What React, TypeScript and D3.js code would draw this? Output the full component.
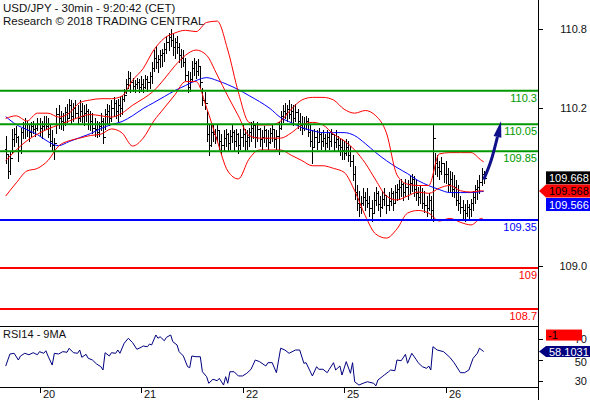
import React from "react";
import * as d3 from "d3";

// ---- OHLC bars (30 min), index 0 = first visible bar ----
const highs = [
  109.99,109.85,109.87,110.04,110.05,110.06,109.99,110.05,110.09,110.12,110.10,110.07,110.09,110.10,110.08,110.12,
  110.12,110.10,110.14,110.14,110.12,110.07,110.03,109.97,110.20,110.22,110.18,110.16,110.21,110.23,110.27,110.26,
  110.24,110.26,110.22,110.26,110.24,110.22,110.23,110.19,110.18,110.16,110.12,110.10,110.09,110.16,110.12,110.19,
  110.23,110.22,110.26,110.28,110.26,110.27,110.28,110.29,110.34,110.42,110.48,110.47,110.43,110.41,110.43,110.42,
  110.44,110.42,110.45,110.44,110.47,110.55,110.64,110.67,110.60,110.64,110.65,110.69,110.75,110.77,110.80,110.76,
  110.73,110.75,110.69,110.65,110.64,110.58,110.48,110.47,110.56,110.58,110.56,110.57,110.52,110.35,110.32,110.18,
  110.08,110.07,110.07,110.04,110.07,110.03,110.00,110.03,110.04,110.01,110.03,110.07,110.03,110.04,110.01,110.04,
  110.07,110.04,110.03,110.05,110.09,110.10,110.07,110.09,110.05,110.03,110.06,110.04,110.03,110.05,110.07,110.04,
  110.03,110.09,110.18,110.22,110.24,110.22,110.26,110.23,110.22,110.23,110.19,110.16,110.14,110.13,110.14,110.12,
  110.07,110.03,110.04,110.03,110.05,110.01,110.03,110.00,110.03,110.01,110.04,110.00,110.03,109.99,109.97,109.96,
  109.95,109.96,109.95,109.91,109.84,109.76,109.61,109.57,109.53,109.59,109.56,109.59,109.53,109.50,109.56,109.60,
  109.57,109.53,109.57,109.59,109.53,109.56,109.59,109.57,109.61,109.62,109.65,109.66,109.63,109.66,109.65,109.68,
  109.70,109.68,109.65,109.60,109.61,109.59,109.57,109.53,109.55,109.53,110.07,109.86,109.84,109.80,109.83,109.78,
  109.80,109.74,109.72,109.71,109.69,109.65,109.61,109.53,109.50,109.47,109.50,109.47,109.51,109.57,109.61,109.65,
  109.69,109.74,109.72
];
const lows = [
  109.78,109.67,109.70,109.86,109.91,109.94,109.80,109.86,109.97,109.97,109.99,109.95,109.99,110.01,109.99,110.03,
  109.99,109.97,110.03,110.04,109.98,109.91,109.88,109.81,110.01,110.05,110.04,110.03,110.07,110.09,110.12,110.08,
  110.10,110.12,110.08,110.10,110.09,110.07,110.10,110.04,110.03,110.01,109.99,109.98,109.99,110.03,109.93,110.04,
  110.08,110.07,110.10,110.14,110.12,110.10,110.14,110.15,110.25,110.31,110.35,110.32,110.33,110.32,110.35,110.32,
  110.33,110.32,110.35,110.33,110.35,110.39,110.48,110.50,110.47,110.51,110.52,110.56,110.62,110.64,110.67,110.60,
  110.58,110.62,110.55,110.51,110.52,110.41,110.32,110.33,110.41,110.45,110.43,110.45,110.35,110.22,110.19,109.95,
  109.84,109.91,109.95,109.93,109.95,109.89,109.86,109.88,109.91,109.88,109.89,109.94,109.88,109.91,109.86,109.89,
  109.91,109.88,109.89,109.91,109.95,109.97,109.90,109.95,109.91,109.89,109.94,109.91,109.89,109.93,109.95,109.90,
  109.89,109.85,110.04,110.09,110.12,110.10,110.12,110.09,110.07,110.10,110.05,110.03,110.00,110.03,110.04,109.99,
  109.91,109.78,109.91,109.89,109.94,109.89,109.91,109.88,109.90,109.89,109.91,109.88,109.90,109.88,109.84,109.81,
  109.81,109.84,109.80,109.76,109.65,109.51,109.42,109.38,109.40,109.46,109.42,109.45,109.38,109.34,109.40,109.46,
  109.42,109.38,109.44,109.46,109.40,109.42,109.46,109.42,109.48,109.50,109.51,109.53,109.50,109.53,109.51,109.55,
  109.57,109.53,109.50,109.46,109.48,109.44,109.41,109.38,109.42,109.36,109.34,109.70,109.68,109.66,109.70,109.64,
  109.63,109.57,109.56,109.53,109.52,109.46,109.42,109.40,109.36,109.34,109.38,109.36,109.38,109.42,109.48,109.51,
  109.55,109.61,109.63
];
const closes = [
  109.85,109.72,109.82,109.96,110.00,109.98,109.88,110.02,110.05,110.08,110.03,110.02,110.06,110.04,110.05,110.08,
  110.05,110.06,110.08,110.06,110.00,109.95,109.92,109.93,110.15,110.12,110.10,110.09,110.17,110.12,110.22,110.14,
  110.20,110.16,110.12,110.18,110.14,110.16,110.18,110.08,110.10,110.05,110.04,110.02,110.06,110.10,109.98,110.15,
  110.18,110.12,110.20,110.24,110.18,110.22,110.20,110.27,110.30,110.38,110.43,110.40,110.37,110.38,110.40,110.36,
  110.38,110.36,110.42,110.40,110.44,110.50,110.58,110.55,110.57,110.60,110.62,110.65,110.70,110.74,110.72,110.66,
  110.70,110.66,110.60,110.58,110.55,110.45,110.36,110.42,110.50,110.54,110.48,110.52,110.40,110.26,110.24,110.00,
  109.92,110.02,110.00,109.98,110.03,109.95,109.92,109.97,110.00,109.93,109.99,110.02,109.95,110.00,109.92,109.98,
  110.00,109.95,109.98,110.02,110.05,110.07,109.98,110.04,109.96,109.98,110.03,109.97,109.94,110.01,110.04,109.96,
  109.99,110.05,110.14,110.18,110.16,110.19,110.15,110.18,110.12,110.17,110.10,110.07,110.05,110.08,110.10,110.02,
  109.95,109.90,109.98,109.94,110.00,109.95,109.97,109.93,109.98,109.95,110.00,109.94,109.96,109.92,109.90,109.88,
  109.86,109.90,109.84,109.80,109.70,109.56,109.48,109.45,109.48,109.52,109.50,109.48,109.44,109.40,109.50,109.55,
  109.47,109.45,109.51,109.54,109.46,109.49,109.55,109.48,109.56,109.58,109.60,109.62,109.56,109.60,109.62,109.63,
  109.66,109.58,109.55,109.52,109.56,109.48,109.46,109.44,109.50,109.42,109.97,109.78,109.75,109.72,109.78,109.70,
  109.70,109.62,109.66,109.58,109.60,109.50,109.48,109.45,109.42,109.40,109.45,109.43,109.48,109.52,109.58,109.60,
  109.64,109.70,109.668
];

// ---- indicators, sampled at these bar indices ----
const bandIdx = [0,5,10,15,20,25,30,35,40,45,50,55,60,65,70,75,80,85,90,95,100,105,110,115,120,125,130,135,140,145,150,155,160,165,170,175,180,185,190,195,200,205,210,215,220,225,226];
const bbUpper = [110.12,110.14,110.10,110.16,110.16,110.13,110.16,110.24,110.26,110.27,110.27,110.29,110.41,110.50,110.64,110.73,110.77,110.79,110.78,110.85,110.86,110.64,110.32,110.09,110.07,110.07,110.10,110.19,110.26,110.28,110.28,110.26,110.19,110.16,110.18,110.14,110.01,109.69,109.62,109.61,109.61,109.85,109.86,109.86,109.86,109.80,109.79];
const bbMid = [109.80,109.88,109.95,110.00,110.04,110.07,110.10,110.13,110.15,110.14,110.13,110.16,110.22,110.27,110.33,110.42,110.52,110.60,110.64,110.60,110.45,110.29,110.14,109.99,109.97,109.97,109.97,110.01,110.07,110.09,110.07,110.00,109.95,109.88,109.78,109.65,109.53,109.50,109.53,109.56,109.55,109.59,109.61,109.57,109.56,109.57,109.568];
const bbLower = [109.53,109.63,109.72,109.74,109.80,109.91,109.95,109.97,109.99,110.00,110.04,110.01,109.91,109.97,110.10,110.20,110.30,110.40,110.40,110.20,109.95,109.72,109.66,109.81,109.88,109.88,109.88,109.84,109.80,109.76,109.76,109.74,109.71,109.57,109.38,109.24,109.21,109.28,109.40,109.42,109.40,109.34,109.36,109.33,109.31,109.36,109.35];
const ma = [110.134,110.073,110.035,109.997,109.944,109.913,109.944,109.974,110.004,110.043,110.073,110.096,110.141,110.195,110.240,110.286,110.332,110.370,110.408,110.430,110.408,110.377,110.339,110.294,110.248,110.195,110.126,110.088,110.050,110.027,110.012,110.012,110.012,109.989,109.929,109.860,109.799,109.746,109.700,109.647,109.609,109.579,109.556,109.556,109.556,109.564,109.566];

// ---- RSI(14) ----
const rsiIdx = [0,2,4,6,7,9,11,13,15,16,18,19,20,22,23,25,27,29,30,32,34,35,36,38,39,41,43,45,46,47,49,50,52,53,54,56,58,60,62,64,65,67,68,69,71,72,73,75,76,78,79,81,82,84,86,87,88,90,92,93,95,96,98,100,101,103,104,105,106,108,110,112,114,116,118,120,123,124,126,128,130,132,134,137,139,141,142,145,147,148,150,152,153,155,156,158,159,161,163,164,165,167,169,171,174,175,176,178,179,181,182,184,185,187,189,190,192,194,195,197,199,200,201,202,204,207,210,212,215,217,219,221,223,224,226];
const rsiVal = [44.0,55.7,56.4,49.9,53.8,56.4,55.0,57.0,55.0,58.0,56.4,58.9,53.8,45.0,56.4,55.7,58.0,57.4,61.3,57.0,56.4,59.6,52.5,55.4,51.6,49.9,46.0,43.4,40.2,57.0,53.8,57.0,56.4,59.6,56.4,66.1,71.0,66.7,60.3,62.2,63.5,62.8,65.4,64.5,74.2,71.0,72.5,68.6,71.9,74.2,67.7,64.5,58.0,53.8,43.4,42.4,53.8,53.1,53.1,38.5,33.7,27.3,31.2,29.8,32.1,25.6,33.7,27.3,38.5,38.5,34.4,34.4,37.0,40.9,49.9,48.3,44.1,47.3,47.3,37.6,61.3,59.6,56.4,59.6,59.6,46.7,47.3,34.4,43.4,40.9,40.9,37.6,40.9,47.3,40.2,44.1,35.3,48.3,37.0,47.3,28.8,25.6,27.3,28.8,27.3,24.7,30.5,33.7,35.3,38.5,40.2,39.5,49.9,49.2,55.4,46.7,56.4,50.6,47.3,43.4,41.8,44.1,40.2,62.8,59.6,58.0,52.5,47.3,37.6,37.6,40.2,51.6,56.4,61.3,58.1];

// ---- horizontal levels ----
const levelValues = [110.33, 110.075, 109.87, 109.348, 108.983, 108.671];
const levelLabels = ["110.3", "110.05", "109.85", "109.35", "109", "108.7"];
const levelColors = ["#009900", "#009900", "#009900", "#0000ff", "#ff0000", "#ff0000"];

// ---- axes ----
const priceTicks = [110.8, 110.2, 109.0];
const priceTickLabels = ["110.8", "110.2", "109.0"];
const rsiTicks = [70, 50, 30];
const dayTickIdx = [16, 64, 112, 160, 208];
const dayLabels = ["20", "21", "22", "25", "26"];

// ---- forecast arrow (bar index, price) ----
const arrowIdx = [226, 229.5, 232.5];
const arrowPrice = [109.655, 109.8, 109.98];
const arrowTip = { idx: 234.2, price: 110.1 };

// ---- last values ----
const lastClose = 109.668;
const lastMid = 109.568;
const lastMa = 109.566;
const lastRsi = 58.1031;
const rsiMaLabel = "-1";

const FONT = "'Liberation Sans', Arial, sans-serif";
const AXIS_X = 538;
const MAIN_BOTTOM = 326;
const RSI_BOTTOM = 387;

export default function App() {
  const x = d3.scaleLinear().domain([0, 226]).range([5.7, 483.7]);
  const y = d3.scaleLinear().domain([109.0, 110.8]).range([265.7, 29]);
  const yr = d3.scaleLinear().domain([30, 70]).range([380.5, 339.3]);

  const bandLine = d3
    .line<[number, number]>()
    .x((d) => x(d[0]))
    .y((d) => y(d[1]))
    .curve(d3.curveMonotoneX);

  const series = (vals: number[]) =>
    bandLine(bandIdx.map((b, i) => [b, vals[i]] as [number, number])) || "";

  const rsiLine = d3
    .line<[number, number]>()
    .x((d) => x(d[0]))
    .y((d) => yr(d[1]));
  const rsiPath = rsiLine(rsiIdx.map((b, i) => [b, rsiVal[i]] as [number, number])) || "";

  const arrowLine = d3
    .line<[number, number]>()
    .x((d) => x(d[0]))
    .y((d) => y(d[1]))
    .curve(d3.curveNatural);
  const arrowPts = arrowIdx.map((b, i) => [b, arrowPrice[i]] as [number, number]);
  const arrowPath = arrowLine(arrowPts) || "";
  const bx = x(arrowIdx[arrowIdx.length - 1]);
  const by = y(arrowPrice[arrowPrice.length - 1]);
  const tx = x(arrowTip.idx);
  const ty = y(arrowTip.price);
  const dx = tx - bx, dy = ty - by;
  const len = Math.hypot(dx, dy);
  const nx = -dy / len, ny = dx / len;
  const hw = 4;
  const headPts = `${tx},${ty} ${bx + nx * hw},${by + ny * hw} ${bx - nx * hw},${by - ny * hw}`;

  const bars = highs.map((h, i) => {
    const px = Math.round(x(i)) + 0.5;
    const o = i === 0 ? (h + lows[0]) / 2 : closes[i - 1];
    const yo = Math.round(y(o)) + 0.5;
    const yc = Math.round(y(closes[i])) + 0.5;
    return (
      <g key={i}>
        <line x1={px} x2={px} y1={Math.round(y(h))} y2={Math.round(y(lows[i])) + 1} />
        <line x1={px - 2} x2={px} y1={yo} y2={yo} />
        <line x1={px} x2={px + 2} y1={yc} y2={yc} />
      </g>
    );
  });

  const yClose = y(lastClose);
  const yMid = y(lastMid);
  const yMa = yMid + 13.5;
  const yRsi = yr(lastRsi);

  return (
    <div style={{ position: "absolute", left: 0, top: 0 }}>
      <svg width={590} height={400} style={{ display: "block", background: "#fff" }} fontFamily={FONT}>
        <defs>
          <clipPath id="mainClip">
            <rect x={0} y={0} width={AXIS_X} height={MAIN_BOTTOM} />
          </clipPath>
          <clipPath id="rsiClip">
            <rect x={0} y={MAIN_BOTTOM} width={AXIS_X} height={RSI_BOTTOM - MAIN_BOTTOM} />
          </clipPath>
        </defs>

        <text x={3} y={12} fontSize={11.5} fill="#111">USD/JPY - 30min - 9:20:42 (CET)</text>
        <text x={3} y={24.5} fontSize={11.5} fill="#111">Research © 2018 TRADING CENTRAL</text>

        <g stroke="#000" strokeWidth={1} shapeRendering="crispEdges" clipPath="url(#mainClip)">
          {bars}
        </g>

        <g fill="none" strokeWidth={1} clipPath="url(#mainClip)">
          <path d={series(ma)} stroke="#0000ff" />
          <path d={series(bbUpper)} stroke="#ff0000" />
          <path d={series(bbMid)} stroke="#ff0000" />
          <path d={series(bbLower)} stroke="#ff0000" />
        </g>

        {levelValues.map((v, i) => (
          <g key={i}>
            <line x1={0} x2={AXIS_X} y1={y(v)} y2={y(v)} stroke={levelColors[i]} strokeWidth={2} />
            <text x={537} y={y(v) + 11} textAnchor="end" fontSize={11} fill={levelColors[i]}>
              {levelLabels[i]}
            </text>
          </g>
        ))}

        <path d={arrowPath} fill="none" stroke="#10108a" strokeWidth={3} />
        <polygon points={headPts} fill="#10108a" />

        <g stroke="#000" strokeWidth={1} shapeRendering="crispEdges">
          <line x1={0} x2={AXIS_X} y1={MAIN_BOTTOM + 0.5} y2={MAIN_BOTTOM + 0.5} />
          <line x1={0} x2={AXIS_X} y1={RSI_BOTTOM + 0.5} y2={RSI_BOTTOM + 0.5} />
          <line x1={AXIS_X + 0.5} x2={AXIS_X + 0.5} y1={0} y2={400} />
        </g>

        {priceTicks.map((t, i) => (
          <g key={i}>
            <line x1={AXIS_X} x2={AXIS_X + 5} y1={Math.round(y(t)) + 0.5} y2={Math.round(y(t)) + 0.5} stroke="#000" shapeRendering="crispEdges" />
            <text x={587} y={y(t) + 4} textAnchor="end" fontSize={11} fill="#111">{priceTickLabels[i]}</text>
          </g>
        ))}

        <text x={3} y={338} fontSize={11} fill="#111">RSI14 - 9MA</text>
        <path d={rsiPath} fill="none" stroke="#000080" strokeWidth={1} clipPath="url(#rsiClip)" />
        {rsiTicks.map((t, i) => (
          <g key={i}>
            <line x1={AXIS_X} x2={AXIS_X + 5} y1={Math.round(yr(t)) + 0.5} y2={Math.round(yr(t)) + 0.5} stroke="#000" shapeRendering="crispEdges" />
            <text x={587} y={yr(t) + (t === 50 ? 6 : 4)} textAnchor="end" fontSize={11} fill="#111">{t}</text>
          </g>
        ))}

        {dayTickIdx.map((d, i) => {
          const px = Math.round(x(d)) + 0.5;
          return (
            <g key={i}>
              <line x1={px} x2={px} y1={RSI_BOTTOM} y2={RSI_BOTTOM + 6} stroke="#000" shapeRendering="crispEdges" />
              <text x={px + 2.5} y={398} fontSize={11} fill="#111">{dayLabels[i]}</text>
            </g>
          );
        })}

        <rect x={546} y={yClose - 6.5} width={44} height={13} fill="#000" />
        <text x={549} y={yClose + 4} fontSize={11} fill="#fff">{lastClose.toFixed(3)}</text>
        <polygon
          points={`${AXIS_X + 1},${yMid} 546,${yMid - 6.5} 590,${yMid - 6.5} 590,${yMid + 6.5} 546,${yMid + 6.5}`}
          fill="#ff0000"
        />
        <text x={549} y={yMid + 4} fontSize={11} fill="#000">{lastMid.toFixed(3)}</text>
        <rect x={546} y={yMa - 6.5} width={44} height={13} fill="#0000ff" />
        <text x={549} y={yMa + 4} fontSize={11} fill="#fff">{lastMa.toFixed(3)}</text>

        <rect x={546} y={yRsi - 22} width={36} height={11} fill="#ff0000" />
        <text x={548} y={yRsi - 13} fontSize={11} fill="#000">{rsiMaLabel}</text>
        <polygon
          points={`${AXIS_X + 1},${yRsi} 546,${yRsi - 5.5} 590,${yRsi - 5.5} 590,${yRsi + 5.5} 546,${yRsi + 5.5}`}
          fill="#000080"
        />
        <text x={549} y={yRsi + 4} fontSize={11} fill="#fff">{lastRsi.toFixed(4)}</text>
      </svg>
    </div>
  );
}
